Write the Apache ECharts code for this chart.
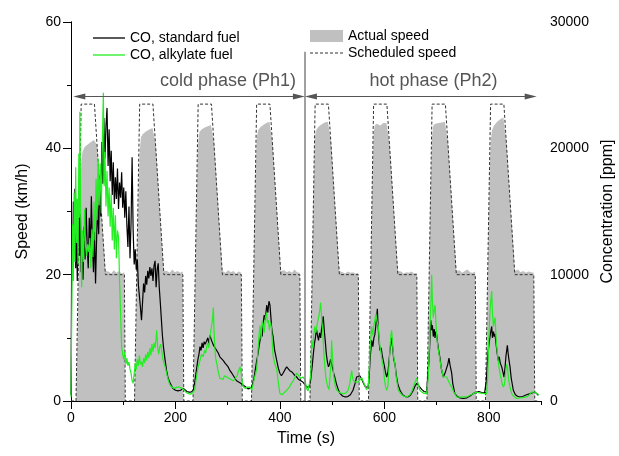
<!DOCTYPE html>
<html>
<head>
<meta charset="utf-8">
<script src="https://cdn.jsdelivr.net/npm/echarts@6.0.0/dist/echarts.min.js"></script>
<style>
html, body { margin:0; padding:0; background:#fff; }
#chart { width:619px; height:456px; }
</style>
</head>
<body>
<div id="chart"></div>
<script>
// start of each 112 s sub-cycle (4 in the cold phase, 4 in the hot phase)
const cycleStart = [0, 112, 224, 336, 448, 560, 672, 784];

// scheduled speed of one sub-cycle, km/h
const schedRelTime = [0, 9.6, 19.5, 44.9, 65.9, 102.2, 104, 112];
const schedSpeed   = [0, 0,   47,   47,   20,   20,    0,   0];

// measured speed, km/h, read per sub-cycle
const actualRelTime = [0, 9.7, 12, 14, 16, 18, 19.5, 22, 26, 32, 38, 44, 47, 50, 54, 58, 62, 66, 67, 72, 77, 82, 87, 92, 97, 102, 103.5, 112];
const actualSpeedC1 = [0, 0, 9, 18, 26, 33, 37.5, 39.5, 40.2, 40.6, 41, 41.3, 41.5, 40.5, 35.7, 30.6, 25.5, 20.6, 20.3, 20.5, 20.2, 20.7, 20.3, 20.6, 20.2, 20.4, 0, 0];
const actualSpeedC2 = [0, 0, 10, 19, 28, 35, 39.5, 41.8, 42.3, 42.7, 43, 43.2, 43.2, 40.9, 35.7, 30.6, 25.5, 20.6, 20.4, 20.6, 20.3, 20.8, 20.4, 20.6, 20.3, 20.5, 0, 0];
const actualSpeedC3 = [0, 0, 10, 20, 29, 37, 41, 42.6, 43, 43.3, 43.5, 43.7, 43.6, 40.9, 35.7, 30.6, 25.5, 20.6, 20.5, 20.3, 20.7, 20.4, 20.6, 20.2, 20.5, 20.3, 0, 0];
const actualSpeedC4 = [0, 0, 10, 20, 29, 37, 41.5, 42.8, 43.3, 43.7, 44, 44.2, 44.1, 40.9, 35.7, 30.6, 25.5, 20.6, 20.3, 20.7, 20.4, 20.6, 20.3, 20.8, 20.4, 20.3, 0, 0];
const actualSpeedC5 = [0, 0, 10.5, 20.5, 30, 38, 42, 43, 43.4, 43.8, 44.1, 44.2, 44, 40.9, 35.7, 30.6, 25.5, 20.6, 20.3, 20.4, 20.2, 20.5, 20.3, 20.4, 20.2, 20.3, 0, 0];
const actualSpeedC6 = [0, 0, 10.5, 20.5, 30, 38, 42.5, 43.7, 43.9, 43.6, 44, 44, 43.9, 40.9, 35.7, 30.6, 25.5, 20.6, 20.3, 20.5, 20.2, 20.4, 20.3, 20.5, 20.2, 20.3, 0, 0];
const actualSpeedC7 = [0, 0, 10.5, 20.5, 30, 38, 42, 43.7, 43.9, 44, 44.1, 44.2, 44.2, 40.9, 35.7, 30.6, 25.5, 20.6, 20.4, 20.7, 20.3, 20.6, 20.8, 20.4, 20.3, 20.5, 0, 0];
const actualSpeedC8 = [0, 0, 10, 20, 29, 37, 41, 42.8, 43.6, 44.2, 44.6, 44.9, 44.8, 40.9, 35.7, 30.6, 25.5, 20.6, 20.5, 20.8, 20.4, 20.6, 20.3, 20.5, 20.4, 20.3, 0, 0];
const actualSpeedCycles = [actualSpeedC1, actualSpeedC2, actualSpeedC3, actualSpeedC4, actualSpeedC5, actualSpeedC6, actualSpeedC7, actualSpeedC8];

// CO concentration, [time s, ppm]
const coStandard = [
  [0,500],[1,600],[1.5,13000],[3,9800],[4.5,15800],[6,12000],[7.5,16800],[9,10500],[10.5,14200],[12,9500],
  [13.5,13000],[15,17500],[16.5,11500],[18,14800],[19.5,10200],[21,12500],[23,9600],[25,13800],[27,11200],[29,15300],
  [31,12400],[33,10500],[35,14500],[37,11800],[39,16200],[41,12600],[43,10200],[45,13400],[47,9300],[49,12800],
  [51,15500],[53,13200],[55,17800],[57,14600],[59,20500],[61,17200],[63,22400],[65,19200],[67,21800],[69,23200],
  [71,18600],[73,21500],[75,17400],[77,19800],[79,16300],[81,18900],[83,15600],[85,17700],[87,16000],[89,18400],
  [91,15200],[93,17300],[95,16100],[97,18100],[99,15300],[101,16900],[103,14500],[105,16600],[107,13900],[109,12200],
  [111,15400],[113,11300],[115,14100],[117,19300],[119,13500],[121,10800],[123,12000],[125,10400],[127,11200],[129,9200],
  [131,8300],[133,7400],[135,6400],[137,7800],[139,9300],[141,8600],[143,9900],[145,9200],[147,10300],[149,9700],
  [151,10600],[153,9900],[155,10500],[157,9500],[159,10700],[161,11100],[163,9000],[165,10400],[167,10900],[169,9000],
  [171,7800],[173,6500],[175,5200],[177,4300],[180,3300],[183,2400],[186,1800],[190,1400],[195,1000],[200,850],
  [205,800],[210,850],[214,1000],[218,900],[222,750],[226,700],[230,700],
  [234,850],[237,1500],[240,2400],[243,3300],[245,3700],[247,4300],[249,4000],[251,4600],[253,4200],[255,4700],
  [257,4500],[260,4800],[262,5000],[264,4500],[266,5200],[269,4800],[271,4900],[273,4400],[276,4300],[279,4000],
  [282,3800],[285,3500],[288,3600],[291.7,3200],[295,3000],[298,3100],[301,2700],[304.5,2400],[308,2200],[311,2000],
  [314,1800],[317,1600],[321,1500],[325,1400],[330,1250],[335,1100],[339.5,950],
  [343,900],[346,1100],[350,1700],[353,2500],[355.6,3200],[358,3700],[360,4300],[362,4800],[364,5500],[366,5100],
  [368,6200],[370,6800],[372,6400],[374.8,7600],[377,7000],[379,7900],[381,7600],[383,6500],[384,5900],[386,5300],
  [387,5100],[390,4000],[394,3200],[397,2600],[400,2200],[403,2000],[406,2200],[410,2500],[413,2700],[416,2800],
  [419,2400],[423,2300],[427,2100],[432,1900],[436,1700],[440,1600],[444,1500],
  [448,1300],[452,1100],[456,1100],[459,1700],[462,2800],[464,3700],[466,4500],[468,5000],[470,5700],[472,5200],
  [474,4800],[476,5400],[478,5000],[480,5800],[482,6400],[483,6700],[485,5600],[487,4700],[489,3700],[491,3100],
  [493,2700],[495,2900],[497,3300],[499,3200],[501,2600],[503,2200],[505,1900],[508,1400],[511,1000],[515,600],
  [520,400],[525,320],[530,350],[535,500],[540,850],[544,1400],[547,1900],[550,2000],[553,2000],[556,1800],
  [560,1400],[564,1100],
  [566,1100],[569,1100],[571,2000],[573,3500],[575.8,4800],[578,4300],[580,5000],[582,5300],[584,6100],[586.6,7300],
  [588,6000],[590,4700],[591.7,4000],[594,4200],[596,3600],[598,3500],[600,2800],[602,2300],[604.5,1900],[607,2300],
  [609,3200],[611,4100],[614,5000],[616,4200],[618,3300],[620.5,2900],[623,2000],[626,1300],[630,850],[635,500],
  [640,350],[645,320],[650,450],[655.5,850],[659,1200],[662,1400],[665,1300],[668,1100],[672,900],
  [676,750],[681,700],[684,850],[686,3500],[688.8,6400],[690.5,5600],[692,6000],[693.8,5100],[695.5,5700],[697,5000],
  [698.5,5500],[700,5300],[702,4600],[704,4000],[706.6,3400],[709,2600],[711,2200],[713,1900],[715,2100],[717,2300],
  [719.5,2400],[721.5,2900],[723.8,3400],[726,2800],[729,2200],[731,1400],[735,580],[740,350],[745,250],[751,200],
  [758,250],[764,400],[770,580],[777,700],[781,750],
  [784,700],[788,650],[792,650],[795,1500],[797,2800],[799,4000],[801,4700],[803,5300],[805.6,5900],[807,5000],
  [809,5500],[810.5,5100],[812,5300],[814,4500],[816,3800],[818.3,3200],[820,3500],[822,3000],[824.8,2700],[827,2300],
  [829.2,1900],[831,2600],[833,3600],[835.6,4400],[837,3800],[838.5,3300],[840.7,2700],[843,1800],[847,850],[851,500],
  [855,380],[859.8,320],[865,350],[870,450],[875,530],[879,580],[884,650],[888.6,700],[892,550],[895,450]
];

const coAlkylate = [
  [0,300],[2,400],[3,14000],[4.5,9500],[6,16500],[7.5,11000],[9,18500],[10.5,12500],[12,16000],[13.5,10800],
  [15,19600],[16,14500],[17,22900],[18.5,15000],[20.4,9000],[22,13500],[24,11000],[26,15200],[28,12200],[30,11500],
  [32,12400],[34,11800],[36,12900],[38,10500],[40,13600],[42,11400],[44,15800],[46,12700],[48,17600],[50,14300],
  [52,19200],[54,15500],[56,18800],[58,14900],[60,20600],[62,24400],[63.5,17000],[65,19700],[67,15400],[69,18200],
  [71,14600],[73,16900],[75,13800],[77,16400],[79,12700],[81,15300],[83,12000],[85,14700],[87,11300],[89,13500],
  [91,13000],[93,9500],[95,6800],[97,4300],[99,3700],[101,3300],[103,3900],[105,2900],[107,3400],[109,2800],
  [111,3100],[113,2500],[115,2200],[117,1600],[119,1400],[121,2200],[123,3000],[125,2500],[127,3300],[129,2800],
  [131,3600],[133,2900],[135,3100],[137,2700],[139,3400],[141,3000],[143,3700],[145,3200],[147,3900],[149,3400],
  [151,4200],[153,3600],[155,4500],[157,3900],[159,4600],[161,4200],[163,5000],[164,5600],[166,4200],[168,3700],
  [170,4300],[172,4500],[174,3900],[176,3300],[178,3000],[181,2600],[183,2200],[186,1700],[189,1300],[193,1100],
  [198,1000],[203,1100],[208,1100],[212,1000],[216,900],[220,700],[224,600],[228,550],[232,600],
  [234,500],[237,900],[240,1800],[243,2600],[245,2900],[247,3200],[250,3700],[253,3500],[256,4000],[258,3800],
  [260,4300],[262,4600],[264,4200],[266,5100],[268,5600],[269,5900],[271,6500],[272.6,7400],[274,5500],[275.8,4000],
  [277,3400],[279,3000],[282,2300],[285,1800],[288,1900],[291,1700],[294,2000],[298,1900],[302,1800],[306,1700],
  [310.8,1600],[314,1700],[318,2000],[321,2400],[323.6,2700],[326,2200],[328,1500],[330,1100],[334,1000],[338,1100],
  [342.8,1100],[346,850],[350,1600],[353,2100],[355.6,2500],[358,4000],[360,5200],[362,6000],[364,4900],[366,6300],
  [368,6000],[370,5400],[372,6600],[374.8,7000],[376,6200],[378,6400],[380,5600],[382,6200],[384,5800],[386,4200],
  [387,3600],[390,3000],[394,2500],[397,1500],[400,600],[404,500],[408,650],[413,850],[418,1100],[422,1400],
  [425.7,1600],[429,1900],[432,2200],[436,2000],[440,1800],[444,1900],
  [448,1700],[451,1000],[454,800],[457,900],[459,2000],[461,4800],[463,4200],[465,5300],[467,5900],[469,5400],
  [471,6000],[473,6100],[475,6800],[477,7400],[478,7800],[480,6600],[482,5500],[484,4000],[486,2800],[488,1900],
  [490,1400],[492,1100],[494,900],[496,850],[498,3000],[499,4800],[501,3300],[503,2000],[506,1200],[509,850],
  [513,700],[518,600],[522,580],[526,620],[530,800],[534,1400],[536,2000],[537.5,2400],[539,1900],[541,1600],
  [545,1500],[550,1500],[553,1650],[556.7,1850],[560,1500],[563,1200],
  [566,900],[569,1100],[571,2500],[573,4300],[575.8,5900],[578,5200],[580,6000],[582,6400],[584,6900],[586,6300],
  [588.5,5900],[590,5000],[591.7,4300],[594,3700],[596,3100],[598,2700],[600,1800],[602,1200],[604.5,850],[607,1200],
  [609,2800],[611,4300],[612.5,5200],[614,5600],[616,4400],[618,3500],[620.5,2900],[623,1800],[626.8,850],[631,600],
  [636,400],[643,320],[648,450],[652,700],[655.5,1100],[659,1500],[662,1800],[665,1300],[668,850],[672,700],
  [676,600],[681,580],[684,1800],[686,4000],[687.5,5900],[689,7500],[690.7,10000],[692,8000],[693.8,6600],[695.5,7200],
  [697,7600],[698.5,6500],[700,5300],[702,4400],[704,3900],[706.6,3200],[709,2600],[713,1900],[716,2000],[719.5,1900],
  [722.5,1600],[726,1300],[729,1100],[733,700],[738.6,320],[745,300],[752,320],[757.8,320],[764,450],[770.4,580],
  [777,700],[781,650],
  [784,580],[788,600],[792,580],[796,580],[798,2000],[800,4800],[802.4,7200],[804,8000],[805.6,8700],[807,7000],
  [808.8,5900],[810.5,6300],[812,6600],[813.5,5400],[815.2,4300],[817.5,3400],[819.5,2700],[821.5,2200],[824,1700],[826,1300],
  [828,1100],[830,1300],[832,2200],[834.4,2900],[836,2600],[837.4,1900],[840,1200],[844,580],[848,350],[853.5,200],
  [860,250],[866,280],[872.7,320],[878,500],[882,700],[885.3,850],[888,700],[891.8,580],[896,500]
];

const timeLabels = [0, 200, 400, 600, 800];

// build the speed traces, one sub-cycle after the other
const speedScheduled = [];
const speedActual = [];
cycleStart.forEach((t0, i) => {
  schedRelTime.forEach((rt, j) => speedScheduled.push([t0 + rt, schedSpeed[j]]));
  actualRelTime.forEach((rt, j) => speedActual.push([t0 + rt, actualSpeedCycles[i][j]]));
});

const FONT = '"Liberation Sans", Arial, sans-serif';
// legend keys drawn as plain strokes (no symbol in the middle)
const ICON_LINE = 'path://M0,0H32V1.3H0Z';
const ICON_DASH = 'path://M0,0h3v1h-3zM5,0h3v1h-3zM10,0h3v1h-3zM15,0h3v1h-3zM20,0h3v1h-3zM25,0h3v1h-3zM30,0h3v1h-3z';

const chart = echarts.init(document.getElementById('chart'));

chart.setOption({
  animation: false,
  textStyle: { fontFamily: FONT, color: '#000' },
  grid: { left: 71, right: 78, top: 22, bottom: 55, outerBoundsMode: 'none' },
  legend: [
    {
      left: 93, top: 31, orient: 'vertical', padding: 0,
      itemWidth: 32, itemHeight: 14, itemGap: 3,
      textStyle: { fontSize: 14, color: '#000' },
      data: [
        { name: 'CO, standard fuel', icon: ICON_LINE },
        { name: 'CO, alkylate fuel', icon: ICON_LINE }
      ]
    },
    {
      left: 310, top: 29, orient: 'vertical', padding: 0,
      itemWidth: 33, itemHeight: 12, itemGap: 3,
      textStyle: { fontSize: 14, color: '#000' },
      data: [
        { name: 'Actual speed', icon: 'rect' },
        { name: 'Scheduled speed', icon: ICON_DASH }
      ]
    }
  ],
  xAxis: [
    {
      type: 'value', min: 0, max: 900, interval: 100,
      name: 'Time (s)', nameLocation: 'middle', nameGap: 30,
      nameTextStyle: { fontSize: 16, color: '#000' },
      axisLine: { lineStyle: { color: '#000', width: 1 } },
      axisTick: { length: 4, lineStyle: { color: '#000' } },
      axisLabel: { customValues: timeLabels, fontSize: 14, color: '#000', margin: 10 },
      splitLine: { show: false }
    },
    {
      type: 'value', min: 0, max: 900, interval: 100, position: 'top',
      axisLine: { lineStyle: { color: '#000', width: 1 } },
      axisTick: { inside: true, length: 4, lineStyle: { color: '#000' } },
      axisLabel: { show: false },
      splitLine: { show: false }
    },
    {
      type: 'value', min: 0, max: 900, position: 'bottom',
      axisLine: { show: false },
      axisTick: { customValues: timeLabels, length: 8, lineStyle: { color: '#000' } },
      axisLabel: { show: false },
      splitLine: { show: false }
    }
  ],
  yAxis: [
    {
      type: 'value', min: 0, max: 60, interval: 20,
      name: 'Speed (km/h)', nameLocation: 'middle', nameGap: 40, nameRotate: 90,
      nameTextStyle: { fontSize: 16, color: '#000' },
      axisLine: { show: true, lineStyle: { color: '#000', width: 1 } },
      axisTick: { show: true, length: 8, lineStyle: { color: '#000' } },
      minorTick: { show: true, splitNumber: 2, length: 4, lineStyle: { color: '#000' } },
      axisLabel: { fontSize: 14, color: '#000', margin: 10 },
      splitLine: { show: false }
    },
    {
      type: 'value', min: 0, max: 30000, interval: 10000, position: 'right',
      name: 'Concentration [ppm]', nameLocation: 'middle', nameGap: 48, nameRotate: 90,
      nameTextStyle: { fontSize: 16, color: '#000' },
      axisLine: { show: true, lineStyle: { color: '#000', width: 1 } },
      axisTick: { show: true, inside: true, length: 7, lineStyle: { color: '#000' } },
      minorTick: { show: true, splitNumber: 2, length: 4, lineStyle: { color: '#000' } },
      axisLabel: { fontSize: 14, color: '#000', margin: 9, formatter: v => String(v) },
      splitLine: { show: false }
    }
  ],
  series: [
    {
      name: 'Actual speed', type: 'line', data: speedActual,
      xAxisIndex: 0, yAxisIndex: 0, symbol: 'none',
      color: '#c0c0c0',
      lineStyle: { width: 0, color: '#c0c0c0' },
      areaStyle: { color: '#c0c0c0', opacity: 1 },
      z: 1
    },
    {
      name: 'Scheduled speed', type: 'line', data: speedScheduled,
      xAxisIndex: 0, yAxisIndex: 0, symbol: 'none',
      color: '#333',
      lineStyle: { width: 1, color: '#333', type: [3, 2] },
      z: 2,
      markLine: {
        silent: true, symbol: 'none',
        label: { show: false },
        lineStyle: { color: '#808080', width: 1.5, type: 'solid' },
        data: [
          [{ coord: [448, 0] }, { coord: [448, 55.3] }],
          [{ coord: [15.9, 48.2], symbol: 'triangle', symbolSize: [6, 12], lineStyle: { color: '#555', width: 1 } },
           { coord: [436.5, 48.2], symbol: 'triangle', symbolSize: [6, 12] }],
          [{ coord: [459.5, 48.2], symbol: 'triangle', symbolSize: [6, 12], lineStyle: { color: '#555', width: 1 } },
           { coord: [880.3, 48.2], symbol: 'triangle', symbolSize: [6, 12] }]
        ]
      },
      markPoint: {
        silent: true, symbol: 'rect', symbolSize: 1,
        itemStyle: { color: 'rgba(0,0,0,0)' },
        label: { show: true, position: 'inside', formatter: '{b}', fontSize: 18, color: '#555', fontFamily: FONT },
        data: [
          { name: 'cold phase (Ph1)', coord: [300.6, 50.7] },
          { name: 'hot phase (Ph2)', coord: [694.2, 50.7] }
        ]
      }
    },
    {
      name: 'CO, standard fuel', type: 'line', data: coStandard,
      xAxisIndex: 0, yAxisIndex: 1, symbol: 'none',
      color: '#000',
      lineStyle: { width: 1.2, color: '#000' },
      z: 3
    },
    {
      name: 'CO, alkylate fuel', type: 'line', data: coAlkylate,
      xAxisIndex: 0, yAxisIndex: 1, symbol: 'none',
      color: '#22ee22',
      lineStyle: { width: 1.2, color: '#22ee22' },
      z: 4
    }
  ]
});
</script>
</body>
</html>
